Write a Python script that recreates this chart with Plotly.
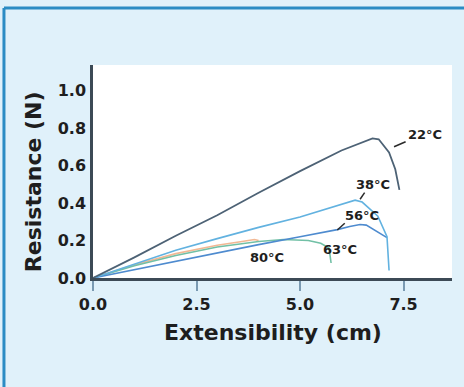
import plotly.graph_objects as go

# ---- data ----
x22 = [0, 1, 2, 3, 4, 5, 6, 6.5, 6.75, 6.9, 7.15, 7.3, 7.4]
y22 = [0, 0.11, 0.225, 0.335, 0.455, 0.57, 0.68, 0.725, 0.745, 0.74, 0.67, 0.58, 0.47]

x38 = [0, 1, 2, 3, 4, 5, 5.5, 6.0, 6.33, 6.5, 6.88, 7.1, 7.13, 7.15]
y38 = [0, 0.075, 0.148, 0.21, 0.27, 0.325, 0.36, 0.395, 0.415, 0.405, 0.33, 0.22, 0.12, 0.04]

x56 = [0, 1, 2, 3, 4, 5, 5.9, 6.2, 6.45, 6.6, 6.75, 7.1]
y56 = [0, 0.045, 0.09, 0.135, 0.178, 0.22, 0.258, 0.275, 0.285, 0.282, 0.262, 0.215]

x63 = [0, 1, 2, 3, 4, 4.6, 5.2, 5.5, 5.7, 5.75]
y63 = [0, 0.065, 0.12, 0.165, 0.195, 0.205, 0.2, 0.185, 0.16, 0.08]

x80 = [0, 1, 2, 3, 3.6, 3.9, 4.0]
y80 = [0, 0.07, 0.13, 0.175, 0.195, 0.205, 0.2]

series_names = ["22°C", "38°C", "56°C", "63°C", "80°C"]
x_ticks = [0, 2.5, 5.0, 7.5]
x_tick_labels = ["0.0", "2.5", "5.0", "7.5"]
y_ticks = [0, 0.2, 0.4, 0.6, 0.8, 1.0]
y_tick_labels = ["0.0", "0.2", "0.4", "0.6", "0.8", "1.0"]

colors = ["#4d6275", "#62b2e0", "#4e8bcf", "#72c0a6", "#f2b894"]
widths = [1.8, 1.6, 1.6, 1.6, 1.6]
FONT = "DejaVu Sans"

fig = go.Figure()
# draw lighter / lower curves first
for xs, ys, name, col, w in [
    (x80, y80, series_names[4], colors[4], widths[4]),
    (x63, y63, series_names[3], colors[3], widths[3]),
    (x56, y56, series_names[2], colors[2], widths[2]),
    (x38, y38, series_names[1], colors[1], widths[1]),
    (x22, y22, series_names[0], colors[0], widths[0]),
]:
    fig.add_trace(go.Scatter(x=xs, y=ys, mode="lines", name=name,
                             line=dict(color=col, width=w), showlegend=False))

label_font = dict(family=FONT, size=13, color="#1e1e1e", weight="bold")
annots = [
    dict(x=8.02, y=0.763, text=series_names[0]),
    dict(x=6.77, y=0.50, text=series_names[1]),
    dict(x=6.49, y=0.335, text=series_names[2]),
    dict(x=5.97, y=0.15, text=series_names[3]),
    dict(x=4.2, y=0.112, text=series_names[4]),
]
for a in annots:
    fig.add_annotation(x=a["x"], y=a["y"], text=a["text"], showarrow=False,
                       xref="x", yref="y", font=label_font)

# pointer lines
for (x0, y0, x1, y1) in [(7.27, 0.70, 7.55, 0.727),
                          (6.45, 0.42, 6.56, 0.455),
                          (5.9, 0.256, 6.08, 0.292)]:
    fig.add_shape(type="line", x0=x0, y0=y0, x1=x1, y1=y1, xref="x", yref="y",
                  line=dict(color="#2a2a2a", width=1.5))

# axis titles as annotations
title_font = dict(family=FONT, size=22, color="#1e1e1e", weight="bold")
fig.add_annotation(x=0.5, y=-0.258, xref="paper", yref="paper",
                   text="Extensibility (cm)", showarrow=False, font=title_font,
                   xanchor="center", yanchor="middle")
fig.add_annotation(x=-0.167, y=0.45, xref="paper", yref="paper",
                   text="Resistance (N)", showarrow=False, font=title_font,
                   textangle=-90, xanchor="center", yanchor="middle")

# outer frame (top & left blue border)
border = "#2b8cc4"
fig.add_shape(type="line", xref="paper", yref="paper", x0=-0.248, x1=1.1,
              y0=1.268, y1=1.268, line=dict(color=border, width=3))
fig.add_shape(type="line", xref="paper", yref="paper", x0=-0.248, x1=-0.248,
              y0=1.268, y1=-0.55, line=dict(color=border, width=3))

tick_font = dict(family=FONT, size=16, color="#1e1e1e", weight="bold")
fig.update_layout(
    width=464, height=387,
    margin=dict(l=93, r=12, t=65, b=109),
    paper_bgcolor="#e0f1fa",
    plot_bgcolor="#ffffff",
    xaxis=dict(range=[0, 8.67], tickvals=x_ticks, ticktext=x_tick_labels,
               showgrid=False, zeroline=False, showline=True,
               linecolor="#3c4a56", linewidth=2.5,
               ticks="outside", ticklen=10, tickwidth=2, tickcolor="#7a9ab2",
               tickfont=tick_font),
    yaxis=dict(range=[0, 1.136], tickvals=y_ticks, ticktext=y_tick_labels,
               showgrid=False, zeroline=False, showline=True,
               linecolor="#3c4a56", linewidth=2.5,
               ticks="", ticklabelstandoff=1, tickfont=tick_font),
)

fig.write_html("out.html", config={"displayModeBar": False},
               post_script="document.body.style.margin='0';document.body.style.overflow='hidden';")
